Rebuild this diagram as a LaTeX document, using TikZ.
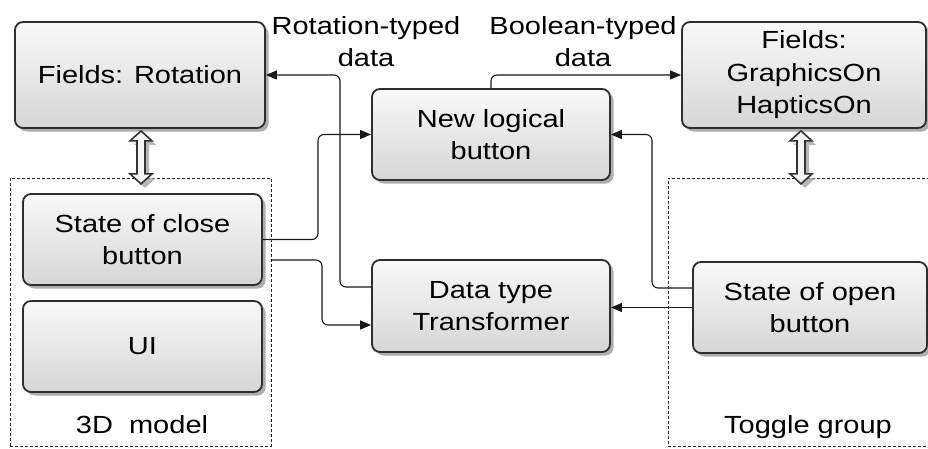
\documentclass[tikz,border=0pt]{standalone}
\usepackage{fontspec}
\setmainfont{Liberation Sans}[FakeStretch=1.17]
\usetikzlibrary{arrows.meta,shadows}

\begin{document}
\begin{tikzpicture}[x=1pt,y=-1pt,
  box/.style={draw=black!82, line width=1.8pt, rounded corners=8pt,
    top color=gray!5, bottom color=gray!32,
    drop shadow={shadow xshift=3.5pt, shadow yshift=-3.5pt, fill=black!45, opacity=.7},
    align=center, font=\fontsize{24.8}{32.5}\selectfont, inner sep=0pt},
  group/.style={draw=black!85, line width=0.9pt, dash pattern=on 3pt off 2pt, inner sep=0pt},
  link/.style={draw=black!90, line width=1.1pt, rounded corners=6pt,
    -{Triangle[length=11pt,width=9pt]}},
  lbl/.style={align=center, font=\fontsize{24.8}{32}\selectfont, inner sep=0pt},
  dbl/.pic={
    % shadow, then the hollow two-headed arrow
    \fill[black!40, opacity=.7, shift={(4,4)}]
      (0,0) -- (11,10) -- (4,10) -- (4,43) -- (11,43) -- (0,53) -- (-11,43) -- (-4,43) -- (-4,10) -- (-11,10) -- cycle;
    \draw[fill=gray!8, draw=black!80, line width=1.6pt, line join=miter]
      (0,0) -- (11,10) -- (4,10) -- (4,43) -- (11,43) -- (0,53) -- (-11,43) -- (-4,43) -- (-4,10) -- (-11,10) -- cycle;
  },
]
\useasboundingbox (0,0) rectangle (928,448);
\clip (0,0) rectangle (928,448);

% groups
\node[group, minimum width=261, minimum height=268] (g3d) at (140.5,312) {};
\node[group, minimum width=272, minimum height=268] (gtog) at (804,312) {};
\node[lbl, anchor=base] (l3d) at (142,433) {3D\ \ model};
\node[lbl, anchor=base] (ltog) at (808,433) {Toggle group};

% boxes
\node[box, minimum width=250, minimum height=106] (rot) at (140,75) {Fields: Rotation};
\node[box, minimum width=244, minimum height=106] (gfx) at (804,75) {Fields:\\GraphicsOn\\HapticsOn};
\node[box, minimum width=238, minimum height=91] (nlb) at (491,134.5) {New logical\\button};
\node[box, minimum width=239, minimum height=91] (scb) at (142.5,239.5) {State of close\\button};
\node[box, minimum width=239, minimum height=91] (ui) at (142.5,346.5) {UI};
\node[box, minimum width=238, minimum height=92] (dtt) at (491,306) {Data type\\Transformer};
\node[box, minimum width=234, minimum height=91] (sob) at (810,307.5) {State of open\\button};

% edge labels
\node[lbl] (lrot) at (366,42) {Rotation-typed\\data};
\node[lbl] (lbool) at (583,42) {Boolean-typed\\data};

% two-way links between field boxes and groups
\pic at ([xshift=1pt,yshift=-2pt]rot.south) {dbl};
\pic at ([xshift=-3pt,yshift=-2pt]gfx.south) {dbl};

% bend columns
\coordinate (b1) at (318,0);
\coordinate (b2) at (322,260);
\coordinate (b3) at (340,0);
\coordinate (b4) at (652,0);

% connectors
\draw[link] (scb.east) -| (b1 |- nlb.west) -- (nlb.west);
\draw[link] (g3d.east |- b2) -- (b2) |- ([yshift=-19pt]dtt.west);
\draw[link] ([yshift=19pt]dtt.west) -| (b3 |- rot.east) -- (rot.east);
\draw[link] ([yshift=19.5pt]sob.west) -| (b4 |- nlb.east) -- (nlb.east);
\draw[link] (sob.west) -- (sob.west -| dtt.east);
\draw[link] (nlb.north) |- (gfx.west);
\end{tikzpicture}
\end{document}
